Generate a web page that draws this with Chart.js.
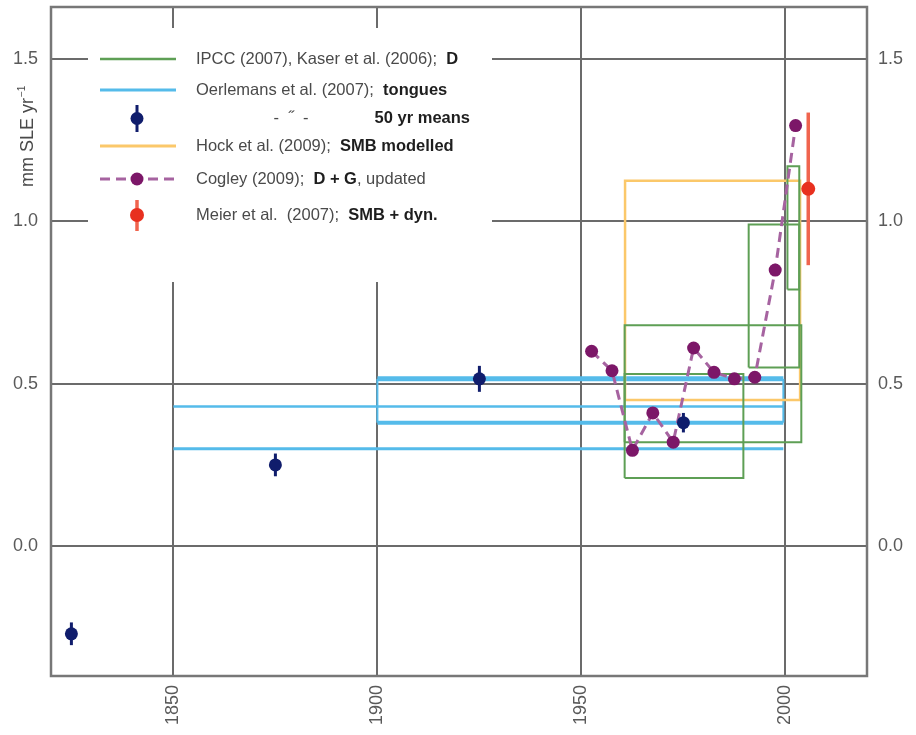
<!DOCTYPE html>
<html>
<head>
<meta charset="utf-8">
<script src="https://cdn.jsdelivr.net/npm/chart.js@4.4.1/dist/chart.umd.min.js"></script>
<style>
  html, body { margin: 0; padding: 0; background: #fff; }
  #wrap { position: relative; width: 916px; height: 735px; }
</style>
</head>
<body>
<div id="wrap"><canvas id="c"></canvas></div>
<script>
// ---- 50-year means (with uncertainty) ----
const meanYears = [1825, 1875, 1925, 1975];
const meanRates = [-0.27, 0.25, 0.515, 0.38];
const meanErr   = [0.035, 0.035, 0.04, 0.03];

// ---- Cogley (2009): D + G, pentadal rates ----
const cogleyYears = [1952.5, 1957.5, 1962.5, 1967.5, 1972.5, 1977.5, 1982.5, 1987.5, 1992.5, 1997.5, 2002.5];
const cogleyRates = [0.60, 0.54, 0.295, 0.41, 0.32, 0.61, 0.535, 0.515, 0.52, 0.85, 1.295];

// ---- Meier et al. (2007): SMB + dyn. ----
const meierYears = [2005.6];
const meierRates = [1.10];
const meierErr   = [0.235];

// ---- IPCC (2007), Kaser et al. (2006): period ranges ----
const ipccStart = [1960.6, 1960.6, 1991.0, 2000.5];
const ipccEnd   = [1989.7, 2003.9, 2003.4, 2003.4];
const ipccLow   = [0.21, 0.32, 0.55, 0.79];
const ipccHigh  = [0.53, 0.68, 0.99, 1.17];

// ---- Hock et al. (2009): SMB modelled ----
const hockStart = [1960.7];
const hockEnd   = [2003.6];
const hockLow   = [0.45];
const hockHigh  = [1.125];

// ---- Oerlemans et al. (2007): glacier tongues ----
const oerStart = [1850, 1850, 1900, 1900];
const oerEnd   = [1999.5, 1999.5, 1999.5, 1999.5];
const oerRate  = [0.43, 0.30, 0.515, 0.38];

// ---- axes ----
const xTicks = [1850, 1900, 1950, 2000];
const yTicks = [0.0, 0.5, 1.0, 1.5];
const xRange = [1820, 2020];
const yRange = [-0.4, 1.66];

// colours
const GREEN = '#5e9f55';
const BLUE = '#55bbea';
const ORANGE = '#fbc86a';
const NAVY = '#101d6c';
const PURPLE = '#7c1768';
const PURPLE_LINE = '#a663a0';
const RED = '#e8301f';
const RED_BAR = '#f0644e';
const GRID = '#6b6b6b';
const TICK_TXT = '#5a5a5a';
const FONT = "'Liberation Sans', Arial, sans-serif";

const oerWidths = [2.5, 3, 5, 4];

function rect(x0, x1, y0, y1) {
  return [{x: x0, y: y0}, {x: x1, y: y0}, {x: x1, y: y1}, {x: x0, y: y1}, {x: x0, y: y0}];
}
function seg(pts) {
  return {
    data: pts, showLine: true, pointRadius: 0, pointHoverRadius: 0, fill: false
  };
}

const datasets = [];

// markers on top
datasets.push({
  label: 'Meier', data: meierYears.map((x, i) => ({x, y: meierRates[i]})),
  showLine: false, pointRadius: 7, pointBackgroundColor: RED, pointBorderWidth: 0
});
datasets.push({
  label: 'means', data: meanYears.map((x, i) => ({x, y: meanRates[i]})),
  showLine: false, pointRadius: 6.5, pointBackgroundColor: NAVY, pointBorderWidth: 0
});
datasets.push({
  label: 'Cogley', data: cogleyYears.map((x, i) => ({x, y: cogleyRates[i]})),
  showLine: true, borderColor: PURPLE_LINE, borderWidth: 3, borderDash: [10, 6],
  pointRadius: 6.5, pointBackgroundColor: PURPLE, pointBorderWidth: 0, fill: false
});

// period ranges
ipccStart.forEach((s, i) => {
  datasets.push(Object.assign(seg(rect(s, ipccEnd[i], ipccLow[i], ipccHigh[i])),
    {label: 'IPCC', borderColor: GREEN, borderWidth: 2}));
});
hockStart.forEach((s, i) => {
  datasets.push(Object.assign(seg(rect(s, hockEnd[i], hockLow[i], hockHigh[i])),
    {label: 'Hock', borderColor: ORANGE, borderWidth: 2.5}));
});
oerStart.forEach((s, i) => {
  datasets.push(Object.assign(seg([{x: s, y: oerRate[i]}, {x: oerEnd[i], y: oerRate[i]}]),
    {label: 'Oerlemans', borderColor: BLUE, borderWidth: oerWidths[i]}));
});
// closing edges of the 1900-2000 tongue range
[oerStart[2], oerEnd[2]].forEach(x => {
  datasets.push(Object.assign(seg([{x, y: oerRate[3]}, {x, y: oerRate[2]}]),
    {label: 'Oerlemans', borderColor: BLUE, borderWidth: 2}));
});

// error bars, drawn beneath the markers
const errorBars = {
  id: 'errorBars',
  beforeDatasetsDraw(chart) {
    const {ctx, scales: {x, y}} = chart;
    ctx.save();
    ctx.lineCap = 'butt';
    ctx.strokeStyle = NAVY; ctx.lineWidth = 3;
    meanYears.forEach((yr, i) => {
      const px = x.getPixelForValue(yr);
      ctx.beginPath();
      ctx.moveTo(px, y.getPixelForValue(meanRates[i] - meanErr[i]));
      ctx.lineTo(px, y.getPixelForValue(meanRates[i] + meanErr[i]));
      ctx.stroke();
    });
    ctx.strokeStyle = RED_BAR; ctx.lineWidth = 3.5;
    meierYears.forEach((yr, i) => {
      const px = x.getPixelForValue(yr);
      ctx.beginPath();
      ctx.moveTo(px, y.getPixelForValue(meierRates[i] - meierErr[i]));
      ctx.lineTo(px, y.getPixelForValue(meierRates[i] + meierErr[i]));
      ctx.stroke();
    });
    ctx.restore();
  }
};

// key panel with mixed regular / bold text
const keyPanel = {
  id: 'keyPanel',
  beforeDatasetsDraw(chart) {
    const ctx = chart.ctx;
    ctx.save();
    ctx.fillStyle = '#fff';
    ctx.fillRect(88, 28, 404, 254);

    const x0 = 100, x1 = 176, xm = 137, tx = 196;
    const reg = `16.5px ${FONT}`, bold = `bold 16.5px ${FONT}`;
    function txt(parts, x, yy) {
      ctx.textBaseline = 'middle';
      ctx.textAlign = 'left';
      let cx = x;
      parts.forEach(([s, b]) => {
        ctx.font = b ? bold : reg;
        ctx.fillStyle = b ? '#1e1e1e' : '#4a4a4a';
        ctx.fillText(s, cx, yy);
        cx += ctx.measureText(s).width;
      });
    }
    function line(yy, col, w, dash) {
      ctx.beginPath();
      ctx.setLineDash(dash || []);
      ctx.strokeStyle = col; ctx.lineWidth = w;
      ctx.moveTo(x0, yy); ctx.lineTo(x1, yy); ctx.stroke();
      ctx.setLineDash([]);
    }
    function dot(xx, yy, r, col) {
      ctx.beginPath(); ctx.fillStyle = col;
      ctx.arc(xx, yy, r, 0, Math.PI * 2); ctx.fill();
    }
    function vbar(xx, ya, yb, col, w) {
      ctx.beginPath(); ctx.strokeStyle = col; ctx.lineWidth = w;
      ctx.moveTo(xx, ya); ctx.lineTo(xx, yb); ctx.stroke();
    }

    // IPCC / Kaser
    line(59, GREEN, 2.5);
    txt([['IPCC (2007), Kaser et al. (2006);  ', false], ['D', true]], tx, 59);
    // Oerlemans
    line(90, BLUE, 3);
    txt([['Oerlemans et al. (2007);  ', false], ['tongues', true]], tx, 90);
    // 50 yr means
    vbar(xm, 105, 132, NAVY, 3);
    dot(xm, 118.5, 6.5, NAVY);
    ctx.font = reg; ctx.fillStyle = '#4a4a4a'; ctx.textAlign = 'center'; ctx.textBaseline = 'middle';
    ctx.fillText('-  \u02DD  -', 291, 118);
    ctx.font = bold; ctx.fillStyle = '#1e1e1e'; ctx.textAlign = 'right';
    ctx.fillText('50 yr means', 470, 118);
    // Hock
    line(146, ORANGE, 3);
    txt([['Hock et al. (2009);  ', false], ['SMB modelled', true]], tx, 146);
    // Cogley
    line(179, PURPLE_LINE, 3, [10, 6]);
    dot(xm, 179, 6.5, PURPLE);
    txt([['Cogley (2009);  ', false], ['D + G', true], [', updated', false]], tx, 179);
    // Meier
    vbar(xm, 200, 231, RED_BAR, 3.5);
    dot(xm, 215, 7, RED);
    txt([['Meier et al.  (2007);  ', false], ['SMB + dyn.', true]], tx, 215);

    ctx.restore();
  }
};

// plot frame and the y-axis title
const frame = {
  id: 'frame',
  afterDraw(chart) {
    const {ctx, chartArea: a, scales: {y}} = chart;
    ctx.save();
    ctx.strokeStyle = '#777';
    ctx.lineWidth = 2.5;
    ctx.strokeRect(a.left, a.top, a.right - a.left, a.bottom - a.top);

    // y-axis title, placed at the upper part of the axis
    const cy = y.getPixelForValue(1.26);
    ctx.translate(28, cy);
    ctx.rotate(-Math.PI / 2);
    ctx.fillStyle = '#4a4a4a';
    ctx.textBaseline = 'middle';
    const main = 'mm SLE yr';
    ctx.font = `18px ${FONT}`;
    const wMain = ctx.measureText(main).width;
    ctx.font = `10px ${FONT}`;
    const wSup = ctx.measureText('\u22121').width;
    const start = -(wMain + wSup) / 2;
    ctx.font = `18px ${FONT}`;
    ctx.textAlign = 'left';
    ctx.fillText(main, start, 0);
    ctx.font = `10px ${FONT}`;
    ctx.fillText('\u22121', start + wMain + 1, -6);
    ctx.restore();
  }
};

const yTickCfg = {
  color: TICK_TXT,
  font: {family: FONT, size: 18},
  callback: v => v.toFixed(1)
};

function fitVertical(w) {
  return s => { s.width = w; s.paddingTop = 0; s.paddingBottom = 0; };
}

new Chart(document.getElementById('c'), {
  type: 'scatter',
  data: {datasets},
  options: {
    responsive: true,
    maintainAspectRatio: false,
    animation: false,
    events: [],
    layout: {padding: {top: 7, left: 0, right: 0, bottom: 0}},
    plugins: {legend: {display: false}, tooltip: {enabled: false}},
    elements: {line: {tension: 0}},
    scales: {
      x: {
        type: 'linear', min: xRange[0], max: xRange[1],
        afterBuildTicks: s => { s.ticks = xTicks.map(v => ({value: v})); },
        afterFit: s => { s.height = 59; s.paddingLeft = 0; s.paddingRight = 0; },
        grid: {color: GRID, lineWidth: 2, drawTicks: false},
        border: {display: false},
        ticks: {
          color: TICK_TXT, font: {family: FONT, size: 18},
          maxRotation: 90, minRotation: 90, padding: 9, autoSkip: false,
          callback: v => String(v)
        }
      },
      y: {
        type: 'linear', position: 'left', min: yRange[0], max: yRange[1],
        afterBuildTicks: s => { s.ticks = yTicks.map(v => ({value: v})); },
        afterFit: fitVertical(51),
        grid: {color: GRID, lineWidth: 2, drawTicks: false},
        border: {display: false},
        ticks: Object.assign({padding: 13}, yTickCfg)
      },
      y2: {
        type: 'linear', position: 'right', min: yRange[0], max: yRange[1],
        afterBuildTicks: s => { s.ticks = yTicks.map(v => ({value: v})); },
        afterFit: fitVertical(49),
        grid: {display: false, drawTicks: false},
        border: {display: false},
        ticks: Object.assign({padding: 11}, yTickCfg)
      }
    }
  },
  plugins: [keyPanel, errorBars, frame]
});
</script>
</body>
</html>
